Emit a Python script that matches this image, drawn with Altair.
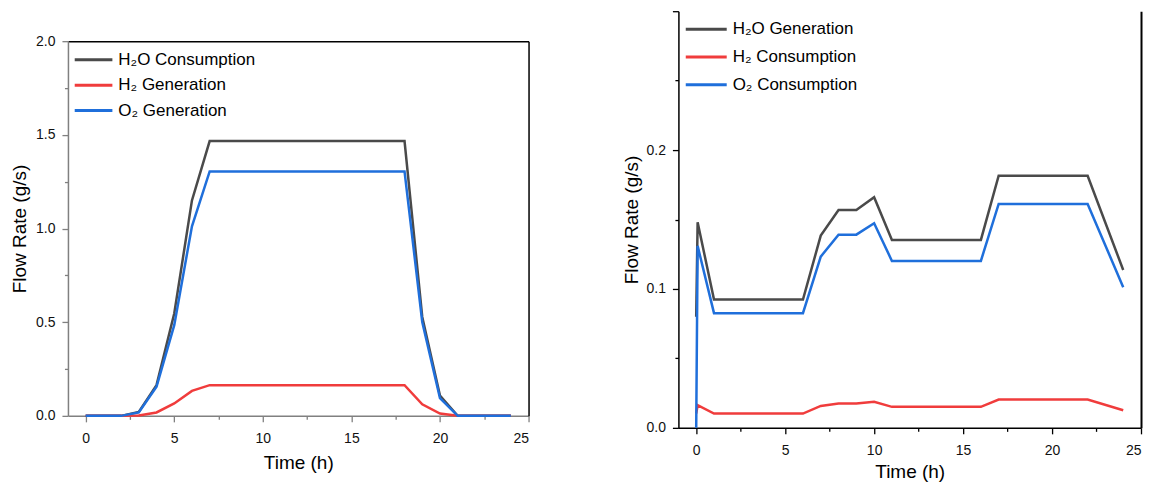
import altair as alt
import pandas as pd

FONT = "Liberation Sans"

# ---------------- data ----------------
left_t = [0, 2, 3, 4, 5, 6, 7, 18, 19, 20, 21, 24]
left_h2o = [0, 0, 0.021, 0.164, 0.546, 1.150, 1.467, 1.467, 0.528, 0.108, 0, 0]
left_h2 = [0, 0, 0.002, 0.018, 0.066, 0.133, 0.164, 0.164, 0.062, 0.012, 0, 0]
left_o2 = [0, 0, 0.018, 0.155, 0.484, 1.012, 1.305, 1.305, 0.501, 0.095, 0, 0]
left_names = ["H₂O Consumption", "H₂ Generation", "O₂ Generation"]

right_t = [0, 0.08, 1, 6, 7, 8, 9, 10, 11, 16, 17, 22, 24]
right_h2o = [0.080, 0.148, 0.0924, 0.0924, 0.1384, 0.1568, 0.1568, 0.166, 0.1353, 0.1353, 0.1815, 0.1815, 0.1137]
right_h2 = [0.0103, 0.0163, 0.0103, 0.0103, 0.0158, 0.0175, 0.0175, 0.0187, 0.0151, 0.0151, 0.0204, 0.0204, 0.0127]
right_o2 = [0.0, 0.131, 0.0826, 0.0826, 0.1233, 0.1391, 0.1391, 0.1473, 0.1202, 0.1202, 0.1612, 0.1612, 0.1013]
right_names = ["H₂O Generation", "H₂ Consumption", "O₂ Consumption"]

colors = ["#4a4a4a", "#f03c3c", "#1f6fdb"]

x_major = [0, 5, 10, 15, 20, 25]
x_minor = [2.5, 7.5, 12.5, 17.5, 22.5]
left_y_major = [0, 0.5, 1.0, 1.5, 2.0]
left_y_minor = [0.25, 0.75, 1.25, 1.75]
right_y_major = [0, 0.1, 0.2, 0.3]
right_y_minor = [0.05, 0.15, 0.25]

# legend line symbol: a horizontal segment twice as long as the nominal symbol size
LINE_SYMBOL = "M-2,0H2"


def long_df(t, series, names):
    rows = []
    for name, vals in zip(names, series):
        for tt, v in zip(t, vals):
            rows.append({"t": tt, "v": v, "s": name})
    return pd.DataFrame(rows)


def panel(df, names, ydom, ymajor, yminor, width, height, axis_color,
          show_top, right_w, legend_x, legend_y, sym_len, row_pad, label_gap,
          y_title_pad, x_title_pad, label_expr=None):
    xs = alt.Scale(domain=[-1, 25], nice=False, zero=False)
    ys = alt.Scale(domain=ydom, nice=False, zero=False)
    base = alt.Chart(df)
    nominal = sym_len / 2.0  # sqrt(symbolSize)
    yaxis_kw = dict(orient="left", values=ymajor, format=".1f", tickSize=6, grid=False,
                    domainColor=axis_color, domainWidth=1.5, tickColor=axis_color,
                    tickWidth=1.3, labelPadding=7, title="Flow Rate (g/s)",
                    titlePadding=y_title_pad, labelFontSize=14, titleFontSize=19,
                    labelColor="#111111", titleColor="#000000", titleFontWeight="normal")
    if label_expr:
        yaxis_kw["labelExpr"] = label_expr
    lines = base.mark_line(strokeWidth=2.5).encode(
        x=alt.X("t:Q", scale=xs, axis=alt.Axis(
            orient="bottom", values=x_major, format="d", tickSize=6, grid=False,
            domainColor=axis_color, domainWidth=1.5, tickColor=axis_color,
            tickWidth=1.3, labelPadding=10, title="Time (h)", titlePadding=x_title_pad,
            labelFontSize=14, titleFontSize=19, labelColor="#111111",
            titleColor="#000000", titleFontWeight="normal")),
        y=alt.Y("v:Q", scale=ys, axis=alt.Axis(**yaxis_kw)),
        color=alt.Color("s:N", sort=names,
                        scale=alt.Scale(domain=names, range=colors),
                        legend=alt.Legend(
                            orient="none", legendX=legend_x + nominal / 2.0,
                            legendY=legend_y,
                            title=None, symbolType=LINE_SYMBOL,
                            symbolSize=nominal * nominal, symbolStrokeWidth=3,
                            labelFontSize=17, labelFont=FONT, labelColor="#000000",
                            labelOffset=nominal / 2.0 + label_gap,
                            rowPadding=row_pad, padding=0)),
    )
    minor = base.mark_line(opacity=0).encode(
        x=alt.X("t:Q", scale=xs, axis=alt.Axis(
            orient="bottom", values=x_minor, labels=False, domain=False, grid=False,
            tickSize=3.5, tickColor=axis_color, tickWidth=1.3, title=None)),
        y=alt.Y("v:Q", scale=ys, axis=alt.Axis(
            orient="left", values=yminor, labels=False, domain=False, grid=False,
            tickSize=3.5, tickColor=axis_color, tickWidth=1.3, title=None)),
        detail="s:N",
    )
    frame = base.mark_line(opacity=0).encode(
        x=alt.X("t:Q", scale=xs, axis=alt.Axis(
            orient="top", ticks=False, labels=False, domain=show_top, grid=False,
            domainColor="#000000", domainWidth=1.5, title=None)),
        y=alt.Y("v:Q", scale=ys, axis=alt.Axis(
            orient="right", ticks=False, labels=False, grid=False,
            domainColor="#000000", domainWidth=right_w, title=None)),
        detail="s:N",
    )
    return alt.layer(lines, minor, frame).resolve_axis(
        x="independent", y="independent").properties(width=width, height=height)


left = panel(long_df(left_t, [left_h2o, left_h2, left_o2], left_names), left_names,
             [0, 2], left_y_major, left_y_minor, 461, 375, "#808080", True, 1.5,
             5.2, 37.5, 37.7, 6.5, 4.4, 6, 8)
right = panel(long_df(right_t, [right_h2o, right_h2, right_o2], right_names), right_names,
              [0, 0.3], right_y_major, right_y_minor, 463, 417, "#000000", False, 2,
              5.6, 6.0, 41, 7.8, 4.2, 4, 5,
              label_expr="datum.value > 0.25 ? '' : format(datum.value, '.1f')")

spacer = alt.Chart(pd.DataFrame({"k": [0]})).mark_rule(opacity=0).encode(
    x=alt.value(0), y=alt.value(0), y2=alt.value(23)
).properties(width=10, height=23)

left_col = alt.vconcat(spacer, left, spacing=0)

chart = alt.hconcat(left_col, right, spacing=93).resolve_scale(
    color="independent"
).resolve_legend(color="independent").properties(
    padding={"left": 2, "top": 2, "right": 5, "bottom": 5},
    background="white",
).configure_view(stroke=None).configure_axis(
    grid=False, labelFont=FONT, titleFont=FONT
)

chart.save("out.html", embed_options={"renderer": "svg", "actions": False})
